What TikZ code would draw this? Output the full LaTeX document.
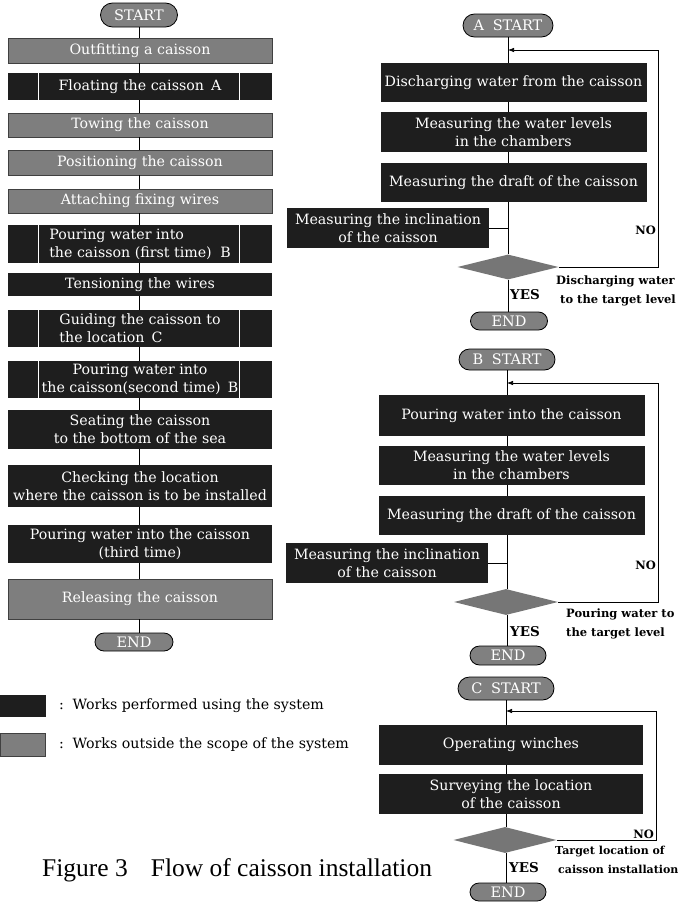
\documentclass[tikz,border=0pt]{standalone}
\usepackage{fontspec}
\setmainfont{DejaVu Serif}
\newfontfamily\capfont{Liberation Serif}
\usetikzlibrary{shapes.misc,shapes.geometric,arrows.meta}
\definecolor{dk}{HTML}{1E1E1E}
\definecolor{gy}{HTML}{7E7E7E}
\definecolor{pg}{HTML}{808080}
\definecolor{dg}{HTML}{767676}
\newcommand\mysidelines[1]{\draw[sideline] ([xshift=31pt]#1.north west) -- ([xshift=31pt]#1.south west) ([xshift=-33pt]#1.north east) -- ([xshift=-33pt]#1.south east);}
\begin{document}
\begin{tikzpicture}[x=1pt,y=-1pt,
  box/.style={inner sep=0pt, text=white, align=center, font=\fontsize{14.2}{18}\selectfont},
  dkbox/.style={box, fill=dk},
  gybox/.style={box, fill=gy, draw=black!75, line width=0.6pt},
  lbox/.style={dkbox, minimum width=264pt},
  lgbox/.style={gybox, minimum width=264pt},
  rbox/.style={dkbox, minimum width=266pt},
  ibox/.style={dkbox, minimum width=202pt, minimum height=40pt},
  pill/.style={rounded rectangle, draw=black, line width=0.8pt, fill=pg, text=white, inner sep=0pt, font=\fontsize{14.5}{16}\selectfont},
  dia/.style={diamond, fill=dg, inner sep=0pt},
  conn/.style={draw=black, line width=0.7pt},
  loop/.style={conn, -{Latex[length=6pt,width=4.5pt]}},
  sideline/.style={draw=white, line width=0.7pt},
  lbl/.style={inner sep=0pt, align=left, font=\fontsize{11.5}{19}\selectfont\bfseries},
  yes/.style={inner sep=0pt, font=\fontsize{13.5}{16}\selectfont\bfseries},
  legtxt/.style={inner sep=0pt, anchor=west, font=\fontsize{14.2}{16}\selectfont}
]
\useasboundingbox (0,0) rectangle (680,902);
\fill[white] (0,0) rectangle (680,902);

% ---------- left column ----------
\node[pill, minimum width=77pt, minimum height=24pt] (ls) at (139,15) {START};
\node[lgbox, minimum height=25pt] (l1) at (140,50.5) {Outfitting a caisson};
\node[lbox, minimum height=27pt] (l2) at (140,86.5) {Floating the caisson\hspace{0.5em}A};
\node[lgbox, minimum height=24pt] (l3) at (140,125) {Towing the caisson};
\node[lgbox, minimum height=25pt] (l4) at (140,162.5) {Positioning the caisson};
\node[lgbox, minimum height=24pt] (l5) at (140,201) {Attaching fixing wires};
\node[lbox, minimum height=38pt, align=left] (l6) at (140,244) {Pouring water into\\the caisson (first time)\hspace{0.6em}B};
\node[lbox, minimum height=23pt] (l7) at (140,284.5) {Tensioning the wires};
\node[lbox, minimum height=37pt, align=left] (l8) at (140,328.5) {Guiding the caisson to\\the location\hspace{0.5em}C};
\node[lbox, minimum height=37pt] (l9) at (140,379.5) {Pouring water into\\the caisson(second time)\hspace{0.5em}B};
\node[lbox, minimum height=39pt] (l10) at (140,429.5) {Seating the caisson\\to the bottom of the sea};
\node[lbox, minimum height=42pt] (l11) at (140,486) {Checking the location\\where the caisson is to be installed};
\node[lbox, minimum height=38pt] (l12) at (140,544) {Pouring water into the caisson\\(third time)};
\node[lgbox, minimum height=40pt] (l13) at (140,599) {Releasing the caisson};
\node[pill, minimum width=78pt, minimum height=18pt] (le) at (134,642) {END};
\mysidelines{l2}
\mysidelines{l6}
\mysidelines{l8}
\mysidelines{l9}
\foreach \a/\b in {ls/l1,l1/l2,l2/l3,l3/l4,l4/l5,l5/l6,l6/l7,l7/l8,l8/l9,l9/l10,l10/l11,l11/l12,l12/l13,l13/le}
  \draw[conn] (ls.south |- \a.south) -- (ls.south |- \b.north);

% ---------- legend ----------
\node[fill=dk, minimum width=46pt, minimum height=22pt, inner sep=0pt] (lg1) at (23,706) {};
\node[fill=gy, draw=black!75, line width=0.6pt, minimum width=45pt, minimum height=23pt, inner sep=0pt] (lg2) at (23,745) {};
\node[legtxt] (lt1) at (59,706) {:\hspace{0.6em}Works performed using the system};
\node[legtxt] (lt2) at (59,745) {:\hspace{0.6em}Works outside the scope of the system};
\node[inner sep=0pt, anchor=west, font=\capfont\fontsize{25.5}{30}\selectfont] (cap) at (42,870) {Figure 3\hspace{0.9em}Flow of caisson installation};

% ---------- A ----------
\node[pill, minimum width=90pt, minimum height=23pt] (as) at (508,25.5) {A\hspace{0.6em}START};
\node[rbox, minimum height=39pt] (a1) at (513.5,82.5) {Discharging water from the caisson};
\node[rbox, minimum height=40pt] (a2) at (513.5,132) {Measuring the water levels\\in the chambers};
\node[rbox, minimum height=39pt] (a3) at (513.5,182.5) {Measuring the draft of the caisson};
\node[ibox] (ai) at (388,228) {Measuring the inclination\\of the caisson};
\node[dia, minimum width=101pt, minimum height=25pt] (ad) at (508,267) {};
\node[pill, minimum width=77pt, minimum height=18pt] (ae) at (509,321) {END};
\draw[conn] (as.south) -- (as.south |- a1.north);
\draw[conn] (as.south |- a1.south) -- (as.south |- a2.north);
\draw[conn] (as.south |- a2.south) -- (as.south |- a3.north);
\draw[conn] (as.south |- a3.south) -- (ad.north);
\draw[conn] (ai.east) -- (as.south |- ai.east);
\draw[conn] (ad.south) -- (ad.south |- ae.north);
\coordinate (aloop) at (658,50);
\draw[loop] (ad.east) -| (aloop) -- (as.south |- aloop);
\node[lbl, anchor=east] (ano) at (656,230) {NO};
\node[lbl, anchor=west] (alab) at (556,291) {Discharging water\\\hspace*{4pt}to the target level};
\node[yes, anchor=west] (ayes) at (510,295) {YES};

% ---------- B ----------
\node[pill, minimum width=96pt, minimum height=21pt] (bs) at (507,359.5) {B\hspace{0.6em}START};
\node[rbox, minimum height=41pt] (b1) at (511.5,415.5) {Pouring water into the caisson};
\node[rbox, minimum height=39pt] (b2) at (511.5,465.5) {Measuring the water levels\\in the chambers};
\node[rbox, minimum height=39pt] (b3) at (511.5,515.5) {Measuring the draft of the caisson};
\node[ibox] (bi) at (387,563) {Measuring the inclination\\of the caisson};
\node[dia, minimum width=104pt, minimum height=26pt] (bd) at (506,602) {};
\node[pill, minimum width=76pt, minimum height=19pt] (be) at (508,655.5) {END};
\draw[conn] (bs.south) -- (bs.south |- b1.north);
\draw[conn] (bs.south |- b1.south) -- (bs.south |- b2.north);
\draw[conn] (bs.south |- b2.south) -- (bs.south |- b3.north);
\draw[conn] (bs.south |- b3.south) -- (bs.south |- bd.north);
\draw[conn] (bi.east) -- (bs.south |- bi.east);
\draw[conn] (bs.south |- bd.south) -- (bs.south |- be.north);
\coordinate (bloop) at (658,383);
\draw[loop] (bd.east) -| (bloop) -- (bs.south |- bloop);
\node[lbl, anchor=east] (bno) at (656,565) {NO};
\node[lbl, anchor=west] (blab) at (566,624) {Pouring water to\\the target level};
\node[yes, anchor=west] (byes) at (510,632) {YES};

% ---------- C ----------
\node[pill, minimum width=96pt, minimum height=23pt] (cs) at (506,688.5) {C\hspace{0.6em}START};
\node[dkbox, minimum width=264pt, minimum height=40pt] (c1) at (511,745) {Operating winches};
\node[dkbox, minimum width=264pt, minimum height=40pt] (c2) at (511,794) {Surveying the location\\of the caisson};
\node[dia, minimum width=103pt, minimum height=26pt] (cd) at (505,840) {};
\node[pill, minimum width=76pt, minimum height=18pt] (ce) at (508,892) {END};
\draw[conn] (cs.south) -- (cs.south |- c1.north);
\draw[conn] (cs.south |- c1.south) -- (cs.south |- c2.north);
\draw[conn] (cs.south |- c2.south) -- (cs.south |- cd.north);
\draw[conn] (cs.south |- cd.south) -- (cs.south |- ce.north);
\coordinate (cloop) at (656,711);
\draw[loop] (cd.east) -| (cloop) -- (cs.south |- cloop);
\node[lbl, anchor=east] (cno) at (654,834) {NO};
\node[lbl, anchor=west, font=\fontsize{11}{19}\selectfont\bfseries] (clab) at (555,859.5) {Target location of\\\hspace*{3pt}caisson installation};
\node[yes, anchor=west] (cyes) at (509,868) {YES};
\end{tikzpicture}
\end{document}
